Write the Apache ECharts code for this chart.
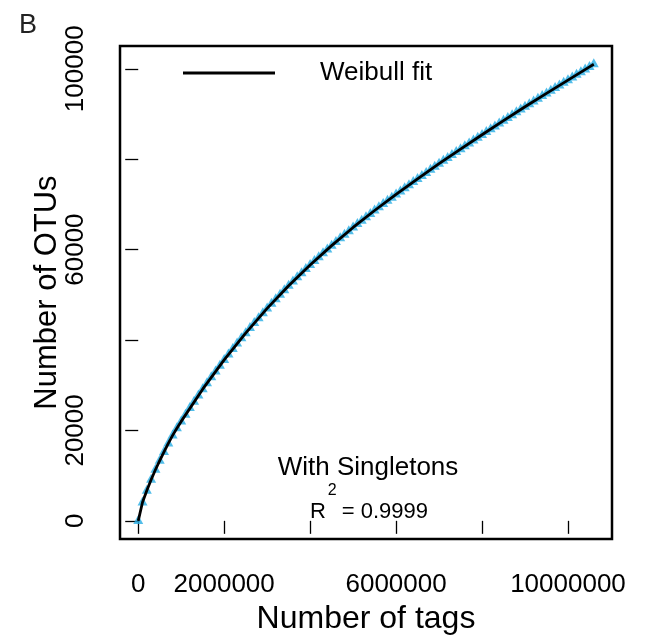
<!DOCTYPE html>
<html>
<head>
<meta charset="utf-8">
<title>Rarefaction - with singletons</title>
<script src="https://cdn.jsdelivr.net/npm/echarts@6.0.0/dist/echarts.min.js"></script>
<style>
  html, body { margin: 0; padding: 0; background: #fff; }
  #main { width: 645px; height: 640px; }
</style>
</head>
<body>
<div id="main"></div>
<script>
var tags = [
  0, 100000, 200000, 300000, 400000, 500000, 600000, 700000, 800000, 900000,
  1000000, 1100000, 1200000, 1300000, 1400000, 1500000, 1600000, 1700000, 1800000, 1900000,
  2000000, 2100000, 2200000, 2300000, 2400000, 2500000, 2600000, 2700000, 2800000, 2900000,
  3000000, 3100000, 3200000, 3300000, 3400000, 3500000, 3600000, 3700000, 3800000, 3900000,
  4000000, 4100000, 4200000, 4300000, 4400000, 4500000, 4600000, 4700000, 4800000, 4900000,
  5000000, 5100000, 5200000, 5300000, 5400000, 5500000, 5600000, 5700000, 5800000, 5900000,
  6000000, 6100000, 6200000, 6300000, 6400000, 6500000, 6600000, 6700000, 6800000, 6900000,
  7000000, 7100000, 7200000, 7300000, 7400000, 7500000, 7600000, 7700000, 7800000, 7900000,
  8000000, 8100000, 8200000, 8300000, 8400000, 8500000, 8600000, 8700000, 8800000, 8900000,
  9000000, 9100000, 9200000, 9300000, 9400000, 9500000, 9600000, 9700000, 9800000, 9900000,
  10000000, 10100000, 10200000, 10300000, 10400000, 10500000, 10600000
];
var otus = [
  0, 4100, 6700, 9100, 11300, 13300, 15250, 17150, 18900, 20500,
  22000, 23500, 24960, 26380, 27770, 29130, 30470, 31790, 33080, 34350,
  35600, 36830, 38040, 39230, 40390, 41530, 42660, 43770, 44860, 45940,
  47000, 48040, 49060, 50060, 51040, 52000, 52950, 53880, 54800, 55710,
  56600, 57480, 58350, 59210, 60050, 60880, 61700, 62520, 63320, 64110,
  64900, 65670, 66430, 67180, 67920, 68650, 69380, 70100, 70810, 71510,
  72200, 72890, 73580, 74270, 74950, 75630, 76310, 76990, 77660, 78330,
  79000, 79660, 80310, 80960, 81600, 82240, 82880, 83520, 84150, 84780,
  85400, 86030, 86660, 87280, 87900, 88520, 89140, 89760, 90380, 90990,
  91600, 92200, 92800, 93390, 93980, 94570, 95160, 95750, 96340, 96920,
  97500, 98090, 98680, 99260, 99840, 100420, 101000
];

// Weibull fit curve
var fitTags = [0, 100000, 200000, 300000, 400000, 500000, 600000, 700000, 800000, 900000,
  1000000, 1500000, 2000000, 2500000, 3000000, 3500000, 4000000, 4500000, 5000000,
  5500000, 6000000, 6500000, 7000000, 7500000, 8000000, 8500000, 9000000, 9500000,
  10000000, 10500000, 10600000];
var fitOTUs = [0, 4100, 6700, 9100, 11300, 13300, 15250, 17150, 18900, 20500,
  22000, 29130, 35600, 41530, 47000, 52000, 56600, 60880, 64900,
  68650, 72200, 75630, 79000, 82240, 85400, 88520, 91600, 94570,
  97500, 100420, 101000];

var xTicks = [0, 2000000, 4000000, 6000000, 8000000, 10000000];
var xTickLabels = [0, 2000000, 6000000, 10000000];
var yTicks = [0, 20000, 40000, 60000, 80000, 100000];
var yTickLabels = [0, 20000, 60000, 100000];

var FONT = 'Liberation Sans';

var chart = echarts.init(document.getElementById('main'));

var pts = [];
for (var i = 0; i < tags.length; i++) {
  pts.push([tags[i], otus[i]]);
}
var fit = [];
for (var j = 0; j < fitTags.length; j++) {
  fit.push([fitTags[j], fitOTUs[j]]);
}

// plain numbers, no thousands separators
function plain(v) { return String(v); }

var option = {
  animation: false,
  backgroundColor: '#fff',
  grid: {
    left: 120, right: 33, top: 46, bottom: 100,
    show: true,
    borderColor: '#000',
    borderWidth: 2.5,
    backgroundColor: 'transparent'
  },
  xAxis: {
    type: 'value',
    min: -424000,
    max: 11024000,
    name: 'Number of tags',
    nameLocation: 'middle',
    nameGap: 56,
    nameTextStyle: { fontSize: 32, color: '#000', fontFamily: FONT },
    axisLine: { show: false },
    splitLine: { show: false },
    axisTick: {
      show: true, inside: false, length: 13,
      customValues: xTicks,
      lineStyle: { color: '#000', width: 1.3 }
    },
    axisLabel: {
      customValues: xTickLabels,
      formatter: plain,
      margin: 33,
      fontSize: 26, color: '#000', fontFamily: FONT
    }
  },
  yAxis: {
    type: 'value',
    min: -4040,
    max: 105040,
    name: 'Number of OTUs',
    nameLocation: 'middle',
    nameGap: 57,
    nameMoveOverlap: false,
    nameTextStyle: { fontSize: 31, color: '#000', fontFamily: FONT },
    axisLine: { show: false },
    splitLine: { show: false },
    axisTick: {
      show: true, inside: false, length: 13,
      customValues: yTicks,
      lineStyle: { color: '#000', width: 1.3 }
    },
    axisLabel: {
      customValues: yTickLabels,
      formatter: plain,
      rotate: 90,
      margin: 31,
      fontSize: 26, color: '#000', fontFamily: FONT
    }
  },
  legend: {
    data: ['Weibull fit'],
    left: 183,
    top: 60,
    padding: 0,
    icon: 'rect',
    itemWidth: 92,
    itemHeight: 3,
    textStyle: { fontSize: 26, color: '#000', fontFamily: FONT, padding: [0, 0, 0, 40] }
  },
  graphic: [
    {
      type: 'text', x: 28, y: 26,
      style: { text: 'B', fontSize: 27, fontFamily: FONT, fill: '#222', align: 'center', verticalAlign: 'middle' }
    },
    {
      type: 'text', x: 368, y: 468,
      style: { text: 'With Singletons', fontSize: 26, fontFamily: FONT, fill: '#000', align: 'center', verticalAlign: 'middle' }
    },
    {
      type: 'text', x: 369, y: 512,
      style: {
        text: '{a|R}{s|2}{a|= 0.9999}',
        align: 'center', verticalAlign: 'middle',
        rich: {
          a: { fontSize: 22, fontFamily: FONT, fill: '#000' },
          s: { fontSize: 16, fontFamily: FONT, fill: '#000', padding: [0, 5, 42, 2] }
        }
      }
    }
  ],
  series: [
    {
      name: 'points',
      type: 'scatter',
      data: pts,
      symbol: 'triangle',
      symbolSize: [10, 9],
      symbolOffset: [0, -1.4],
      itemStyle: { color: '#27ADE3' },
      z: 2
    },
    {
      name: 'Weibull fit',
      type: 'line',
      data: fit,
      smooth: false,
      showSymbol: false,
      symbol: 'none',
      color: '#000',
      lineStyle: { color: '#000', width: 2.8 },
      z: 3
    }
  ]
};

chart.setOption(option);
window.onresize = chart.resize;
</script>
</body>
</html>
